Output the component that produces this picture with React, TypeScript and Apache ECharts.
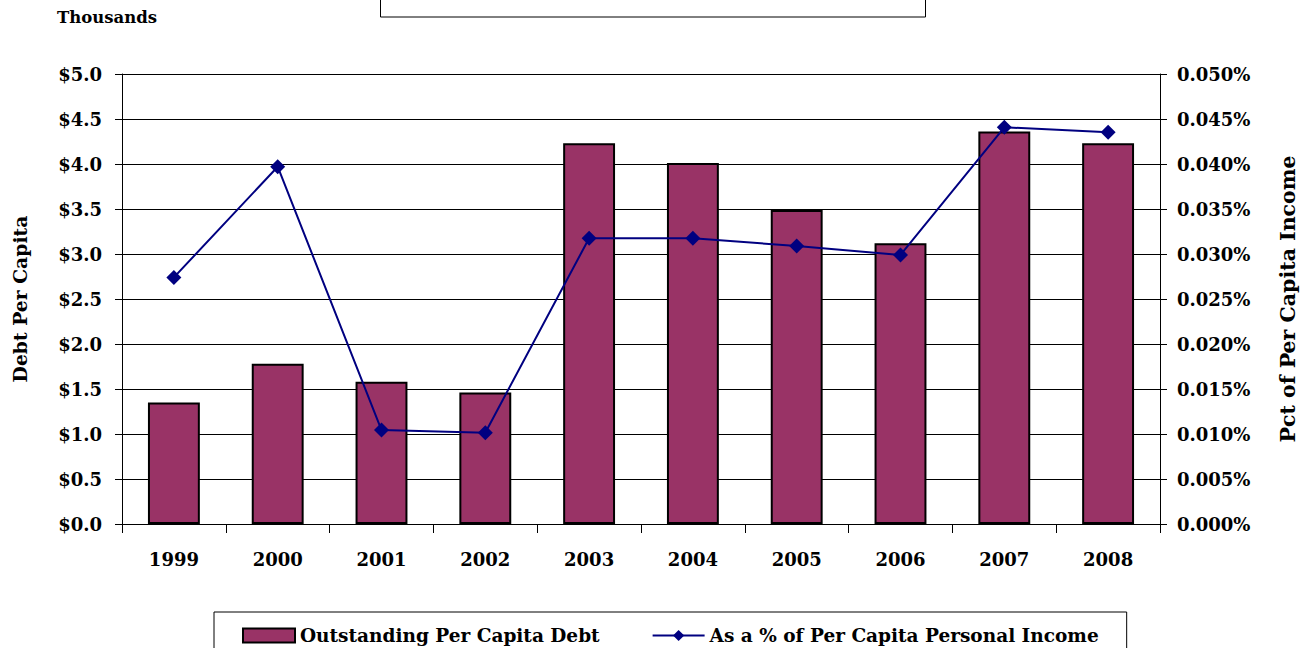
import React, { useEffect, useRef } from "react";
import * as echarts from "echarts";

const years = ["1999", "2000", "2001", "2002", "2003", "2004", "2005", "2006", "2007", "2008"];
// Outstanding per capita debt, thousands of dollars
const debtPerCapita = [1.35, 1.78, 1.58, 1.46, 4.23, 4.01, 3.49, 3.12, 4.36, 4.23];
// As a % of per capita personal income (percent)
const pctOfIncome = [0.0274, 0.0397, 0.01044, 0.01014, 0.03175, 0.03175, 0.03089, 0.02989, 0.04408, 0.04352];

const FONT = "DejaVu Serif";

export default function App() {
  const ref = useRef<HTMLDivElement>(null);
  useEffect(() => {
    if (!ref.current) return;
    const chart = echarts.init(ref.current, null, { renderer: "svg" });
    const labelStyle = { fontFamily: FONT, fontWeight: "bold" as const, fontSize: 18, color: "#000" };
    chart.setOption({
      animation: false,
      backgroundColor: "#fff",
      textStyle: { fontFamily: FONT },
      grid: { left: 122, right: 147, top: 74, bottom: 124, containLabel: false, outerBoundsMode: "none" },
      graphic: [
        {
          type: "rect",
          shape: { x: 380.5, y: -10, width: 545, height: 27 },
          style: { fill: "#fff", stroke: "#000", lineWidth: 1 },
        },
        {
          type: "text",
          left: 57,
          top: 9,
          style: { text: "Thousands", fontFamily: FONT, fontWeight: "bold", fontSize: 16.5, fill: "#000" },
        },
      ],
      legend: {
        left: 214,
        top: 612,
        padding: [14, 28, 14, 28],
        itemGap: 52,
        itemWidth: 52,
        itemHeight: 14,
        borderColor: "#000",
        borderWidth: 1,
        backgroundColor: "#fff",
        textStyle: { fontFamily: FONT, fontWeight: "bold", fontSize: 18.5, color: "#000" },
        data: [
          { name: "Outstanding Per Capita Debt", icon: "rect" },
          { name: "As a % of Per Capita Personal Income" },
        ],
      },
      xAxis: {
        type: "category",
        data: years,
        boundaryGap: true,
        axisLine: { lineStyle: { color: "#000", width: 1 } },
        axisTick: { show: true, length: 9, lineStyle: { color: "#000" } },
        axisLabel: { ...labelStyle, margin: 26 },
      },
      yAxis: [
        {
          type: "value",
          min: 0,
          max: 5,
          interval: 0.5,
          name: "Debt Per Capita",
          nameLocation: "middle",
          nameGap: 93,
          nameRotate: 90,
          nameTextStyle: { ...labelStyle, fontSize: 18.8 },
          axisLine: { show: true, lineStyle: { color: "#000", width: 1 } },
          axisTick: { show: true, length: 7, lineStyle: { color: "#000" } },
          splitLine: { show: true, lineStyle: { color: "#000", width: 1 } },
          axisLabel: { ...labelStyle, margin: 20, formatter: (v: number) => "$" + v.toFixed(1) },
        },
        {
          type: "value",
          min: 0,
          max: 0.05,
          interval: 0.005,
          position: "right",
          name: "Pct of Per Capita Income",
          nameLocation: "middle",
          nameGap: 117,
          nameRotate: 90,
          nameTextStyle: { ...labelStyle, fontSize: 20.5 },
          axisLine: { show: true, lineStyle: { color: "#000", width: 1 } },
          axisTick: { show: true, length: 7, lineStyle: { color: "#000" } },
          splitLine: { show: false },
          axisLabel: { ...labelStyle, margin: 17, formatter: (v: number) => v.toFixed(3) + "%" },
        },
      ],
      series: [
        {
          name: "Outstanding Per Capita Debt",
          type: "bar",
          data: debtPerCapita,
          yAxisIndex: 0,
          barWidth: "50%",
          itemStyle: { color: "#993366", borderColor: "#000", borderWidth: 2 },
        },
        {
          name: "As a % of Per Capita Personal Income",
          type: "line",
          data: pctOfIncome,
          yAxisIndex: 1,
          symbol: "diamond",
          symbolSize: 15,
          lineStyle: { color: "#000080", width: 2 },
          itemStyle: { color: "#000080" },
        },
      ],
    });
    return () => chart.dispose();
  }, []);
  return <div ref={ref} style={{ position: "absolute", left: 0, top: 0, width: 1307, height: 648 }} />;
}
